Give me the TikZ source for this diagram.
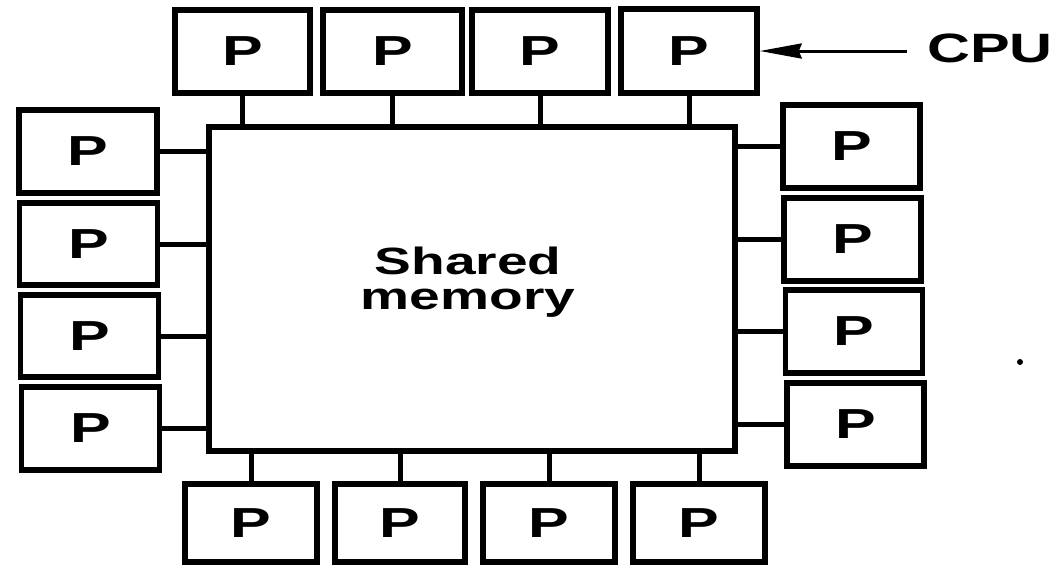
\documentclass[tikz,border=0pt]{standalone}
\usepackage{fontspec}
\usetikzlibrary{arrows.meta}
\newfontfamily\lab{Liberation Sans}[FakeStretch=1.45]
\begin{document}
\begin{tikzpicture}[x=1pt,y=-1pt,
  pbox/.style={draw, line width=5.5pt, inner sep=0pt, font=\lab\bfseries\fontsize{42}{42}\selectfont},
  memfont/.style={inner sep=0pt, anchor=base, font=\lab\bfseries\fontsize{38}{38}\selectfont},
  conn/.style={line width=5pt},
  arr/.style={line width=3pt, -{Stealth[length=42pt,width=15pt,inset=3pt]}}]
\useasboundingbox (0,0) rectangle (1061,566);
% shared memory
\node[draw, line width=5.5pt, minimum width=526pt, minimum height=324pt, inner sep=0pt] (mem) at (472,289) {};
\node[memfont] (sh) at (468,274) {Shared};
\node[memfont] (me) at (468,309) {memory};
% top row
\node[pbox, minimum width=135pt, minimum height=83pt] (t1) at (242.5,51.5) {P};
\node[pbox, minimum width=139pt, minimum height=83pt] (t2) at (392.5,51.5) {P};
\node[pbox, minimum width=136pt, minimum height=83pt] (t3) at (540,51.5) {P};
\node[pbox, minimum width=136pt, minimum height=84pt] (t4) at (689,51) {P};
% left column
\node[pbox, minimum width=138pt, minimum height=83pt] (l1) at (88,151.5) {P};
\node[pbox, minimum width=138pt, minimum height=82pt] (l2) at (88.5,244) {P};
\node[pbox, minimum width=138pt, minimum height=82pt] (l3) at (89.5,336) {P};
\node[pbox, minimum width=138pt, minimum height=83pt] (l4) at (90.5,428.5) {P};
% right column
\node[pbox, minimum width=137pt, minimum height=83pt] (r1) at (851.5,146.5) {P};
\node[pbox, minimum width=137pt, minimum height=83pt] (r2) at (852.5,239.5) {P};
\node[pbox, minimum width=137pt, minimum height=83pt] (r3) at (854,331.5) {P};
\node[pbox, minimum width=137pt, minimum height=83pt] (r4) at (855.5,424.5) {P};
% bottom row
\node[pbox, minimum width=132pt, minimum height=78pt] (b1) at (251,523) {P};
\node[pbox, minimum width=130pt, minimum height=78pt] (b2) at (400,523) {P};
\node[pbox, minimum width=132pt, minimum height=78pt] (b3) at (549,523) {P};
\node[pbox, minimum width=132pt, minimum height=78pt] (b4) at (699,523) {P};
% connectors
\foreach \n in {t1,t2,t3,t4} \draw[conn] (\n.south) -- (\n.south |- mem.north);
\foreach \n in {b1,b2,b3,b4} \draw[conn] (\n.north) -- (\n.north |- mem.south);
\foreach \n in {l1,l2,l3,l4} \draw[conn] (\n.east) -- (\n.east -| mem.west);
\foreach \n in {r1,r2,r3,r4} \draw[conn] (\n.west) -- (\n.west -| mem.east);
% CPU label
\node[inner sep=0pt, font=\lab\bfseries\fontsize{41}{41}\selectfont] (cpu) at (990,48) {CPU};
\coordinate (cpuarr) at ([xshift=-20pt]cpu.west |- t4.east);
\draw[arr] (cpuarr) -- (t4.east);
% speck
\fill (1020,362) circle (3pt);
\end{tikzpicture}
\end{document}
